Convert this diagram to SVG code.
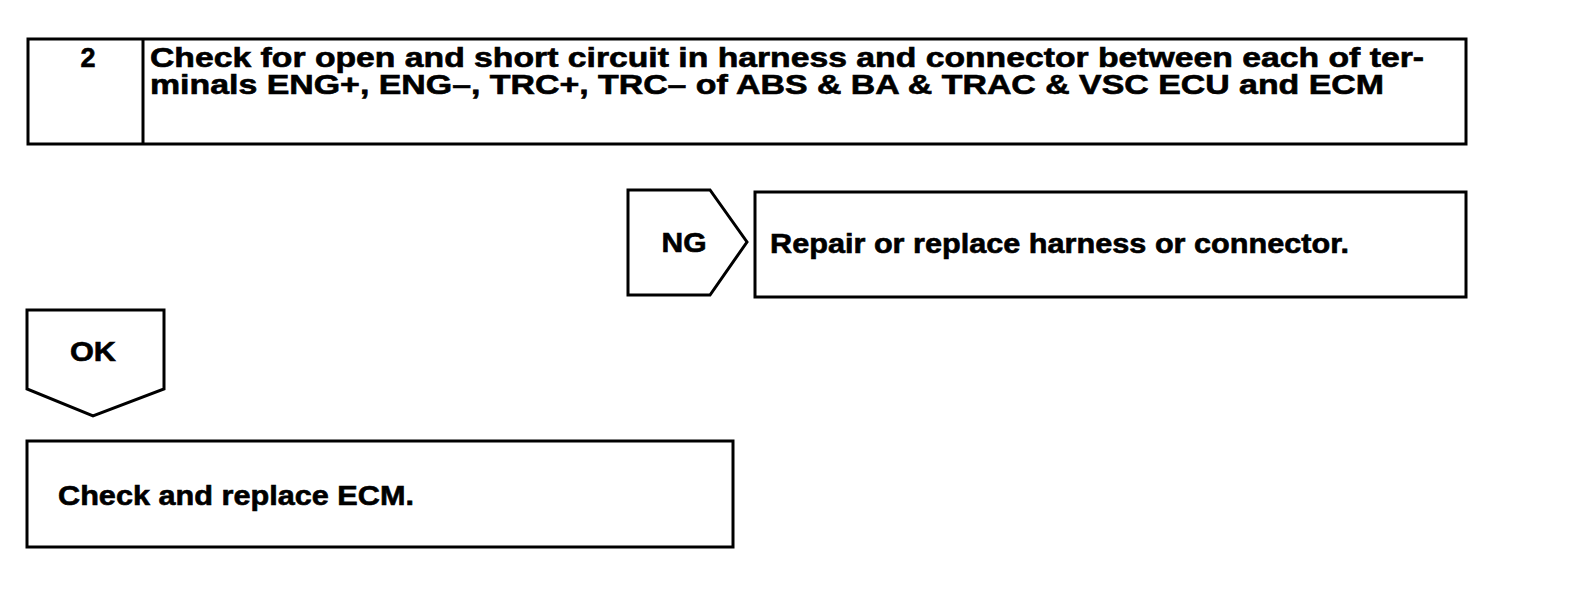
<svg xmlns="http://www.w3.org/2000/svg" width="1584" height="606" viewBox="0 0 1584 606">
<style>
.box{fill:#fff;stroke:#000;stroke-width:3}
.t{font-family:"Liberation Sans",Arial,sans-serif;font-weight:bold;font-size:27px;fill:#000;stroke:#000;stroke-width:0.6}
</style>
<rect width="1584" height="606" fill="#fff"/>
<g id="step2">
<rect class="box" x="28" y="39" width="1438" height="105"/>
<line x1="143" y1="39" x2="143" y2="144" stroke="#000" stroke-width="3"/>
<text class="t" x="88" y="67" text-anchor="middle">2</text>
<text class="t" x="150" y="67" textLength="1274" lengthAdjust="spacingAndGlyphs">Check for open and short circuit in harness and connector between each of ter-</text>
<text class="t" x="150" y="94" textLength="1234" lengthAdjust="spacingAndGlyphs">minals ENG+, ENG–, TRC+, TRC– of ABS &amp; BA &amp; TRAC &amp; VSC ECU and ECM</text>
</g>
<g id="ng">
<polygon class="box" points="628,190 710,190 747,242 710,295 628,295"/>
<text class="t" x="684" y="252" text-anchor="middle" textLength="45" lengthAdjust="spacingAndGlyphs">NG</text>
</g>
<g id="repair">
<rect class="box" x="755" y="192" width="711" height="105"/>
<text class="t" x="770" y="253" textLength="579" lengthAdjust="spacingAndGlyphs">Repair or replace harness or connector.</text>
</g>
<g id="ok">
<polygon class="box" points="27,310 164,310 164,389 93,416 27,389"/>
<text class="t" x="93" y="361" text-anchor="middle" textLength="46" lengthAdjust="spacingAndGlyphs">OK</text>
</g>
<g id="replace-ecm">
<rect class="box" x="27" y="441" width="706" height="106"/>
<text class="t" x="58" y="505" textLength="356" lengthAdjust="spacingAndGlyphs">Check and replace ECM.</text>
</g>
<g id="connectors"></g>
</svg>
